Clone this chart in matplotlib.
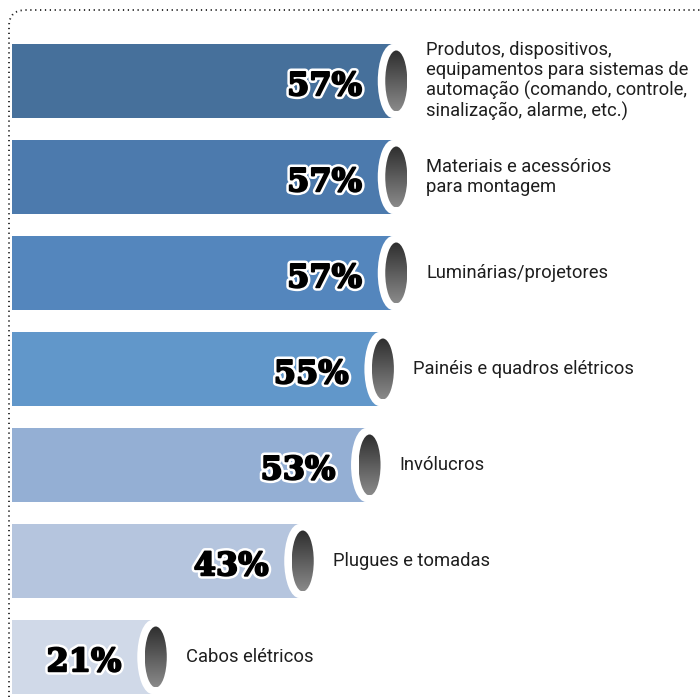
import matplotlib
matplotlib.use("Agg")
import matplotlib.pyplot as plt
import matplotlib.patheffects as pe
from matplotlib.patches import Ellipse, PathPatch
from matplotlib.path import Path
import numpy as np

labels = [
    "Produtos, dispositivos,\nequipamentos para sistemas de\nautomação (comando, controle,\nsinalização, alarme, etc.)",
    "Materiais e acessórios\npara montagem",
    "Luminárias/projetores",
    "Painéis e quadros elétricos",
    "Invólucros",
    "Plugues e tomadas",
    "Cabos elétricos",
]
values = [57, 57, 57, 55, 53, 43, 21]
colors = ["#46709b", "#4c7aad", "#5486bd", "#6197ca", "#94afd4", "#b5c5de", "#d0d9e8"]

W, H = 700, 697
fig = plt.figure(figsize=(W / 100, H / 100), dpi=100)

# axes: x=0 at px 12, 6.68 px per unit
left_px = 12
ppu = 6.68
ax = fig.add_axes([left_px / W, 0, (W - left_px) / W, 1])
xmax = (W - left_px) / ppu
spacing = 96.0
ytop = -81 / spacing
ybot = 6 + (H - 81 - 6 * spacing) / spacing

ypos = np.arange(len(values))
bar_h = 74 / spacing
ax.barh(ypos, values, height=bar_h, color=colors, zorder=1)

# gradient for the caps
grad = np.linspace(0, 1, 256).reshape(-1, 1)
cmap = matplotlib.colors.LinearSegmentedColormap.from_list("cap", ["#2e2e2e", "#8a8a8a"])

for y, v, lab in zip(ypos, values, labels):
    white = Ellipse((v, y), width=30 / ppu, height=bar_h * 1.0, facecolor="white",
                    edgecolor="none", zorder=2)
    ax.add_patch(white)
    cx = v + 3.5 / ppu
    cw = 22 / ppu
    ch = 61 / spacing
    dark = Ellipse((cx, y), width=cw, height=ch, facecolor="none", edgecolor="none", zorder=3)
    ax.add_patch(dark)
    im = ax.imshow(grad, cmap=cmap, aspect="auto", zorder=3,
                   extent=[cx - cw / 2, cx + cw / 2, y + ch / 2, y - ch / 2])
    im.set_clip_path(dark)

    ax.text(v - 4.6, y + 0.06, f"{v}%", ha="right", va="center", fontsize=23,
            fontweight="bold", family="DejaVu Serif", color="black", zorder=4,
            path_effects=[pe.withStroke(linewidth=5, foreground="white"),
                          pe.withStroke(linewidth=1.4, foreground="black")])
    ax.text(v + 5.0, y, lab, ha="left", va="center", fontsize=13.2,
            family="Roboto", color="#1e1e1e", linespacing=1.15, zorder=4)

ax.set_xlim(0, xmax)
ax.set_ylim(ybot, ytop)
ax.axis("off")

# dotted frame (top and left) in figure pixels
verts = [(9 / W, 0), (9 / W, 1 - 26 / H), (9 / W, 1 - 10 / H), (26 / W, 1 - 10 / H), (1, 1 - 10 / H)]
codes = [Path.MOVETO, Path.LINETO, Path.CURVE3, Path.CURVE3, Path.LINETO]
frame = PathPatch(Path(verts, codes), transform=fig.transFigure, facecolor="none",
                  edgecolor="#222222", linewidth=1.3, linestyle=(0, (0.7, 2.0)))
fig.add_artist(frame)

fig.savefig("out.png", dpi=100)
